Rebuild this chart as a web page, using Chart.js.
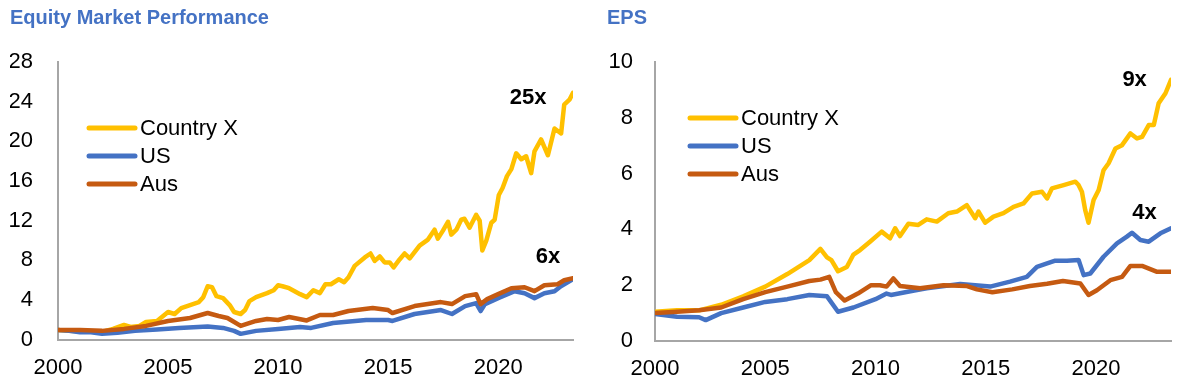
<!DOCTYPE html>
<html>
<head>
<meta charset="utf-8">
<script src="https://cdn.jsdelivr.net/npm/chart.js@4"></script>
<style>
  body { margin: 0; background: #fff; }
  .box { position: absolute; top: 0; height: 378px; }
</style>
</head>
<body>
<div class="box" style="left:0;width:590px"><canvas id="equityChart"></canvas></div>
<div class="box" style="left:595px;width:585px"><canvas id="epsChart"></canvas></div>
<script>
// series names and colours
const seriesNames = ['Country X', 'US', 'Aus'];
const seriesColors = ['#FFC000', '#4472C4', '#C55A11'];
const xTicks = [2000, 2005, 2010, 2015, 2020];

// Equity market performance, [year, index] (2000 = 1)
const eqCountryX = [[2000,1.0],[2000.5,0.9],[2001,0.85],[2001.5,0.8],[2002,0.8],[2002.5,1.1],[2003,1.5],[2003.3,1.3],[2003.7,1.4],[2004,1.8],[2004.5,1.9],[2005,2.8],[2005.3,2.6],[2005.6,3.2],[2006,3.5],[2006.4,3.8],[2006.6,4.3],[2006.8,5.4],[2007,5.3],[2007.2,4.4],[2007.5,4.2],[2007.8,3.5],[2008,2.8],[2008.3,2.6],[2008.5,3.0],[2008.7,3.9],[2009,4.3],[2009.5,4.7],[2009.8,5.0],[2010,5.5],[2010.2,5.4],[2010.5,5.2],[2011,4.6],[2011.3,4.3],[2011.6,5.0],[2011.9,4.7],[2012.15,5.6],[2012.4,5.6],[2012.76,6.1],[2013,5.8],[2013.2,6.3],[2013.48,7.45],[2013.94,8.3],[2014.2,8.7],[2014.39,7.95],[2014.62,8.4],[2014.84,7.8],[2015.07,7.8],[2015.25,7.3],[2015.52,8.1],[2015.75,8.7],[2015.98,8.2],[2016.43,9.5],[2016.81,10.1],[2017.11,11.1],[2017.26,10.2],[2017.49,11.0],[2017.72,11.9],[2017.87,10.6],[2018.1,11.1],[2018.32,12.1],[2018.47,12.2],[2018.7,11.3],[2019.0,12.6],[2019.16,12.0],[2019.28,9.0],[2019.46,10.0],[2019.69,11.8],[2019.84,12.1],[2020.03,14.6],[2020.2,15.3],[2020.4,16.5],[2020.6,17.2],[2020.82,18.8],[2021.05,18.2],[2021.27,18.5],[2021.5,16.8],[2021.65,19.0],[2021.95,20.2],[2022.26,18.6],[2022.56,21.3],[2022.86,20.8],[2023.0,23.7],[2023.24,24.2],[2023.4,24.9]];
const eqUS = [[2000,1.0],[2000.5,0.9],[2001,0.77],[2001.5,0.75],[2002,0.6],[2002.7,0.7],[2003.5,0.9],[2004.5,1.05],[2005.5,1.2],[2006.8,1.35],[2007.5,1.2],[2008,0.9],[2008.3,0.6],[2009,0.9],[2010,1.1],[2010.5,1.2],[2011,1.3],[2011.5,1.2],[2012.5,1.7],[2014,2.0],[2015,2.0],[2015.2,1.9],[2016.2,2.6],[2017.4,3.0],[2017.9,2.6],[2018.5,3.4],[2019.0,3.7],[2019.2,2.9],[2019.4,3.6],[2020,4.2],[2020.75,4.9],[2021.2,4.7],[2021.65,4.2],[2022.1,4.7],[2022.56,4.9],[2022.85,5.4],[2023.4,6.1]];
const eqAus = [[2000,1.0],[2001,1.0],[2002,0.9],[2003,1.1],[2004,1.4],[2005,1.9],[2006,2.2],[2006.8,2.7],[2007.3,2.4],[2007.7,2.2],[2008.3,1.4],[2009,1.9],[2009.5,2.1],[2010,2.0],[2010.5,2.3],[2011.3,1.95],[2011.9,2.5],[2012.5,2.5],[2013.2,2.9],[2014.3,3.2],[2015,3.0],[2015.2,2.7],[2016.2,3.4],[2017.4,3.8],[2017.9,3.6],[2018.5,4.4],[2019.0,4.6],[2019.2,3.6],[2019.5,4.1],[2020,4.6],[2020.6,5.2],[2021.2,5.3],[2021.65,4.9],[2022.1,5.5],[2022.7,5.6],[2023,6.0],[2023.4,6.2]];

// EPS, [year, index] (2000 = 1)
const epsCountryX = [[2000,1.05],[2001,1.1],[2002,1.1],[2003,1.3],[2004,1.6],[2005,1.95],[2006,2.4],[2006.5,2.65],[2007,2.9],[2007.5,3.3],[2007.8,3.0],[2008,2.9],[2008.3,2.5],[2008.7,2.65],[2009,3.1],[2009.3,3.26],[2009.75,3.56],[2010.28,3.92],[2010.66,3.68],[2010.89,4.04],[2011.11,3.76],[2011.49,4.2],[2011.94,4.16],[2012.32,4.36],[2012.78,4.28],[2013.3,4.58],[2013.69,4.64],[2014.14,4.87],[2014.52,4.4],[2014.67,4.64],[2014.97,4.24],[2015.35,4.46],[2015.8,4.58],[2016.26,4.81],[2016.71,4.93],[2017.1,5.29],[2017.55,5.35],[2017.78,5.11],[2018.0,5.47],[2018.53,5.59],[2019.06,5.71],[2019.2,5.6],[2019.36,5.35],[2019.51,4.69],[2019.66,4.24],[2019.89,5.05],[2020.12,5.41],[2020.34,6.12],[2020.57,6.37],[2020.88,6.9],[2021.18,7.02],[2021.56,7.44],[2021.86,7.26],[2022.09,7.32],[2022.39,7.74],[2022.62,7.74],[2022.84,8.52],[2023.15,8.88],[2023.4,9.36]];
const epsUS = [[2000,0.97],[2001,0.87],[2002,0.85],[2002.3,0.75],[2003,1.0],[2004,1.2],[2005,1.4],[2006,1.5],[2007,1.65],[2007.8,1.6],[2008.3,1.05],[2009,1.2],[2010,1.5],[2010.5,1.7],[2010.7,1.65],[2011.7,1.8],[2012.32,1.89],[2013.84,2.04],[2015.2,1.95],[2016.1,2.13],[2016.86,2.3],[2017.32,2.66],[2017.78,2.78],[2018.15,2.88],[2018.68,2.88],[2019.21,2.9],[2019.44,2.36],[2019.74,2.42],[2020.34,3.02],[2020.95,3.5],[2021.4,3.74],[2021.63,3.88],[2022.01,3.62],[2022.39,3.56],[2022.92,3.86],[2023.4,4.04]];
const epsAus = [[2000,1.0],[2001,1.05],[2002,1.1],[2003,1.2],[2004,1.5],[2005,1.75],[2006,1.95],[2007,2.15],[2007.5,2.2],[2007.9,2.3],[2008.2,1.75],[2008.6,1.45],[2009.2,1.7],[2009.8,2.0],[2010.2,2.0],[2010.5,1.95],[2010.81,2.24],[2011.11,1.97],[2012.02,1.89],[2013.08,2.0],[2014.15,1.97],[2014.6,1.85],[2015.3,1.75],[2016.2,1.85],[2017,1.97],[2017.78,2.05],[2018.5,2.15],[2019.29,2.06],[2019.66,1.65],[2020.04,1.82],[2020.65,2.18],[2021.18,2.3],[2021.56,2.69],[2022.09,2.69],[2022.77,2.48],[2023.4,2.48]];

// multiple labels
const eqLabels = [{ text: '25x', x: 2021.36, y: 24.4 }, { text: '6x', x: 2022.26, y: 8.4 }];
const epsLabels = [{ text: '9x', x: 2021.75, y: 9.35 }, { text: '4x', x: 2022.2, y: 4.6 }];

const FONT = '"Liberation Sans", Arial, sans-serif';

// legend inside the plot + the "25x" style labels
const overlayPlugin = {
    id: 'overlay',
    afterDatasetsDraw(chart, args, opts) {
        const ctx = chart.ctx;
        const area = chart.chartArea;
        ctx.save();
        ctx.lineCap = 'round';
        ctx.lineWidth = 5;
        ctx.font = '22px ' + FONT;
        ctx.textBaseline = 'middle';
        ctx.textAlign = 'left';
        chart.data.datasets.forEach((ds, i) => {
            const y = area.top + opts.legendTop + i * opts.legendGap;
            const x0 = area.left + opts.legendLeft;
            ctx.strokeStyle = ds.borderColor;
            ctx.beginPath();
            ctx.moveTo(x0, y);
            ctx.lineTo(x0 + 46, y);
            ctx.stroke();
            ctx.fillStyle = '#000';
            ctx.fillText(ds.label, x0 + 51, y + 1);
        });
        ctx.font = 'bold 22px ' + FONT;
        ctx.textAlign = 'center';
        opts.labels.forEach(l => {
            ctx.fillText(l.text, chart.scales.x.getPixelForValue(l.x), chart.scales.y.getPixelForValue(l.y));
        });
        ctx.restore();
    }
};

function makeDatasets(series) {
    // draw Country X first so US and Aus sit on top of it
    return series.map((s, i) => ({
        label: seriesNames[i],
        data: s.map(p => ({ x: p[0], y: p[1] })),
        borderColor: seriesColors[i],
        borderWidth: 4.5,
        pointRadius: 0,
        tension: 0,
        borderJoinStyle: 'round',
        borderCapStyle: 'round',
        order: series.length - i
    }));
}

function makeChart(id, title, series, yMax, yStep, labels, pad, yPad, legend) {
    return new Chart(document.getElementById(id), {
        type: 'line',
        data: { datasets: makeDatasets(series) },
        options: {
            responsive: true,
            maintainAspectRatio: false,
            animation: false,
            layout: { padding: { left: pad.left, right: pad.right, top: 0, bottom: 0 } },
            plugins: {
                legend: { display: false },
                tooltip: { enabled: false },
                title: {
                    display: true,
                    text: title,
                    align: 'start',
                    color: '#4472C4',
                    font: { family: FONT, size: 20, weight: 'bold' },
                    padding: { top: 6, bottom: 32 }
                },
                overlay: Object.assign({ labels: labels }, legend)
            },
            scales: {
                x: {
                    type: 'linear',
                    min: 2000,
                    max: 2023.4,
                    grid: { display: false, drawTicks: false },
                    border: { color: '#A6A6A6', width: 2 },
                    afterBuildTicks: scale => { scale.ticks = xTicks.map(v => ({ value: v })); },
                    afterFit: scale => { scale.height = 37; },
                    ticks: {
                        color: '#000',
                        padding: 15,
                        maxRotation: 0,
                        font: { family: FONT, size: 22 },
                        callback: v => String(v)
                    }
                },
                y: {
                    min: 0,
                    max: yMax,
                    grid: { display: false, drawTicks: false },
                    border: { color: '#A6A6A6', width: 2 },
                    afterFit: scale => { scale.width = pad.axis; },
                    ticks: {
                        stepSize: yStep,
                        color: '#000',
                        padding: yPad,
                        font: { family: FONT, size: 22 }
                    }
                }
            }
        },
        plugins: [overlayPlugin]
    });
}

makeChart('equityChart', 'Equity Market Performance', [eqCountryX, eqUS, eqAus], 28, 4, eqLabels,
    { left: 10, right: 17, axis: 48 }, 25, { legendLeft: 31, legendTop: 66, legendGap: 28 });
makeChart('epsChart', 'EPS', [epsCountryX, epsUS, epsAus], 10, 2, epsLabels,
    { left: 12, right: 9, axis: 48 }, 22, { legendLeft: 35, legendTop: 56, legendGap: 28 });
</script>
</body>
</html>
